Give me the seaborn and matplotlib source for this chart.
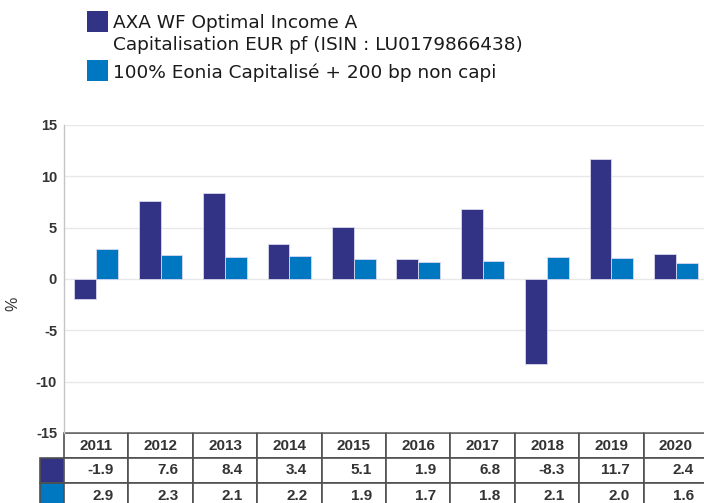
import matplotlib
matplotlib.use("Agg")
import matplotlib.pyplot as plt
from matplotlib.patches import Rectangle
from matplotlib.table import Table
import pandas as pd
import seaborn as sns

# Annual performance data (%)
years = ["2011", "2012", "2013", "2014", "2015", "2016", "2017", "2018", "2019", "2020"]
fund = [-1.9, 7.6, 8.4, 3.4, 5.1, 1.9, 6.8, -8.3, 11.7, 2.4]
benchmark = [2.9, 2.3, 2.1, 2.2, 1.9, 1.7, 1.8, 2.1, 2.0, 1.6]
fund_name = "AXA WF Optimal Income A\nCapitalisation EUR pf (ISIN : LU0179866438)"
bench_name = "100% Eonia Capitalisé + 200 bp non capi"
yticks = [-15, -10, -5, 0, 5, 10, 15]

fund_color = "#333385"
bench_color = "#0078c1"
text_color = "#333333"

sns.set_style("white")
plt.rcParams["font.family"] = ["Liberation Sans", "DejaVu Sans"]

df = pd.DataFrame({
    "year": years * 2,
    "series": [fund_name] * len(years) + [bench_name] * len(years),
    "value": fund + benchmark,
})

W, H = 704, 503
fig = plt.figure(figsize=(W / 100, H / 100), dpi=100)
ax_l, ax_r, ax_t, ax_b = 64, 708, 125, 433
ax = fig.add_axes([ax_l / W, 1 - ax_b / H, (ax_r - ax_l) / W, (ax_b - ax_t) / H])

sns.barplot(data=df, x="year", y="value", hue="series",
            palette=[fund_color, bench_color], saturation=1,
            width=0.68, edgecolor="#d8d8ee", linewidth=0.6,
            legend=False, ax=ax)

ax.set_xlim(-0.5, len(years) - 0.5)
ax.set_ylim(-15, 15)
ax.set_yticks(yticks)
ax.set_yticklabels([str(t) for t in yticks], fontweight="bold")
ax.tick_params(axis="y", length=0, pad=5, labelsize=10.5, labelcolor=text_color)
ax.set_xticks([])
ax.set_xlabel("")
ax.set_ylabel("%", fontsize=11.5, color=text_color)
ax.yaxis.set_label_coords(-0.068, 0.42)
ax.yaxis.grid(True, color="#e8e8e8", linewidth=1)
ax.set_axisbelow(True)
for side in ["top", "right", "bottom"]:
    ax.spines[side].set_visible(False)
ax.spines["left"].set_color("#c4c4c4")
ax.spines["left"].set_linewidth(1)

# Data table under the plot: a colour key column followed by one column per year
ax_w_px = ax_r - ax_l
ax_h_px = ax_b - ax_t
col_w = 64.4
lab_w = 24
row_h = 25
tbl_w = lab_w + col_w * len(years)
tbl_h = row_h * 3
tbl = Table(ax, bbox=[-lab_w / ax_w_px, -tbl_h / ax_h_px, tbl_w / ax_w_px, tbl_h / ax_h_px])
for j, y in enumerate(years, start=1):
    tbl.add_cell(0, j, width=col_w, height=row_h, text=y, loc="center", facecolor="white")
for i, (vals, colr) in enumerate([(fund, fund_color), (benchmark, bench_color)], start=1):
    tbl.add_cell(i, 0, width=lab_w, height=row_h, text="", facecolor=colr)
    for j, v in enumerate(vals, start=1):
        c = tbl.add_cell(i, j, width=col_w, height=row_h, text=f"{v:.1f}", loc="right", facecolor="white")
        c.PAD = 0.22
tbl.auto_set_font_size(False)
tbl.set_fontsize(11)
for (r, cidx), cell in tbl.get_celld().items():
    cell.set_edgecolor("#505050")
    cell.set_linewidth(1.2)
    cell.get_text().set_fontweight("bold")
    cell.get_text().set_color(text_color)
ax.add_table(tbl)

# Legend drawn at the top of the figure
legend_items = [
    (fund_color, fund_name.split("\n"), 11),
    (bench_color, [bench_name], 60),
]
for colr, lines, top in legend_items:
    fig.add_artist(Rectangle((87 / W, 1 - (top + 21) / H), 21 / W, 21 / H,
                             transform=fig.transFigure, facecolor=colr, edgecolor="none"))
    for k, line in enumerate(lines):
        fig.text(113 / W, 1 - (top + 17.5 + 22 * k) / H, line, fontsize=13.3,
                 family="DejaVu Sans", color="#1a1a1a", va="baseline", ha="left")

fig.savefig("out.png", dpi=100)
